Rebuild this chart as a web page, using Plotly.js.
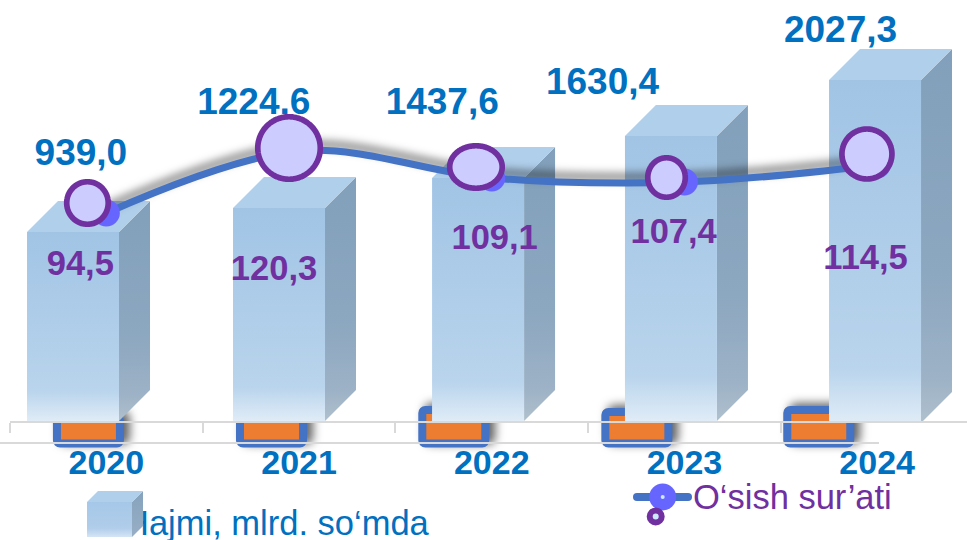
<!DOCTYPE html>
<html>
<head>
<meta charset="utf-8">
<script src="https://cdn.plot.ly/plotly-3.0.1.min.js"></script>
<style>html,body{margin:0;padding:0;background:#fff}#c{width:967px;height:540px}</style>
</head>
<body>
<div id="c"></div>
<script>
// ---- data ----
const years = ['2020','2021','2022','2023','2024'];
const volumeLabels = ['939,0','1224,6','1437,6','1630,4','2027,3'];
const growthRates = [94.5,120.3,109.1,107.4,114.5];
const growthLabels = ['94,5','120,3','109,1','107,4','114,5'];
// heights of the hand-placed boxes above the axis, as drawn (they do not scale with the labels)
const boxHeights = [190,214,244,286,342];
const boxFloors = [1,1,1,1,-1];
const boxShift = [-0.173,-0.104,-0.071,-0.07,-0.011];
// leftover small bars behind the boxes
const smallBarShift = [-0.093,-0.143,-0.197,-0.247,-0.303];
const smallBarTops = [4,4,12,10,12];
// hand-placed rings
const ringShiftX = [-0.098,-0.052,-0.082,-0.093,-0.053];
const ringY = [219,274,255,244.5,268];
const ringRx = [20.75,31.25,26.25,18.75,25];
const ringRy = [21.25,31.25,21.25,19.75,25];
// text anchors
const volumeLabelShift = [-0.132,-0.235,-0.257,-0.425,-0.19];
const volumeLabelY = [266,317,317,337,389];
const growthLabelShift = [-0.135,-0.13,0.015,-0.056,-0.06];
const growthLabelY = [156,151,182,188,162];

// ---- geometry helpers ----
const pxPerCat = 192.7, dx = p => p / pxPerCat;
const boxW = dx(92), depthX = dx(31), depth = 31;
const traces = [];

// small bars
traces.push({type:'bar', x:years.map((_,i)=>i+smallBarShift[i]),
  y:smallBarTops.map(t=>t+21.5), base:years.map(()=>-21.5), width:dx(63),
  marker:{color:'#ed7d31', cornerradius:3, line:{color:'#4472c4', width:8}}, hoverinfo:'skip'});

// a 3D box made of three faces
function box(cx, floor, top, w, dX, dY, frontCols, sideCols, topCol){
  const l = cx - w/2, r = cx + w/2;
  traces.push({type:'scatter', mode:'lines', x:[r,r+dX,r+dX,r,r], y:[floor,floor+dY,top+dY,top,floor],
    fill:'toself', line:{width:0}, hoverinfo:'skip',
    fillgradient:{type:'vertical', start:floor, stop:top+dY, colorscale:sideCols}});
  traces.push({type:'scatter', mode:'lines', x:[l,r,r+dX,l+dX,l], y:[top,top,top+dY,top+dY,top],
    fill:'toself', fillcolor:topCol, line:{width:0}, hoverinfo:'skip'});
  traces.push({type:'scatter', mode:'lines', x:[l,r,r,l,l], y:[floor,floor,top,top,floor],
    fill:'toself', line:{width:0}, hoverinfo:'skip',
    fillgradient:{type:'vertical', start:floor, stop:top, colorscale:frontCols}});
}
const frontCols = [[0,'#e0ecf7'],[0.16,'#b9d4ec'],[1,'#a1c4e5']];
const sideCols = [[0,'#b0c0cd'],[0.12,'#9db2c6'],[0.4,'#8ca7c0'],[1,'#82a0bb']];
years.forEach((_,i)=>box(i+boxShift[i], boxFloors[i], boxHeights[i], boxW, depthX, depth, frontCols, sideCols, '#b0cfeb'));

// growth line + markers (overlay subplot y2)
traces.push({type:'scatter', mode:'lines', x:years.map((_,i)=>i), y:growthRates, yaxis:'y2',
  line:{color:'#4472c4', width:7, shape:'spline', smoothing:1}, hoverinfo:'skip'});
traces.push({type:'scatter', mode:'markers', x:years.map((_,i)=>i), y:growthRates, yaxis:'y2',
  marker:{color:'#6666ff', size:27}, hoverinfo:'skip'});

// value labels (overlay subplot y3, above the line)
traces.push({type:'scatter', mode:'text', x:years.map((_,i)=>i+volumeLabelShift[i]), y:volumeLabelY, yaxis:'y3',
  text:volumeLabels, textposition:'middle center',
  textfont:{family:'Liberation Sans', size:37, color:'#0070c0', weight:700}, hoverinfo:'skip'});
traces.push({type:'scatter', mode:'text', x:years.map((_,i)=>i+growthLabelShift[i]), y:growthLabelY, yaxis:'y3',
  text:growthLabels, textposition:'middle center',
  textfont:{family:'Liberation Sans', size:34.5, color:'#7030a0', weight:700}, hoverinfo:'skip'});

// rings
function ring(cx, cy, rx, ry){
  const xs=[], ys=[];
  for(let a=0;a<=180;a++){ const t=a/180*2*Math.PI; xs.push(cx+dx(rx)*Math.cos(t)); ys.push(cy+ry*Math.sin(t)); }
  traces.push({type:'scatter', mode:'lines', x:xs, y:ys, yaxis:'y3', fill:'toself', fillcolor:'#ccccff',
    line:{color:'#7030a0', width:5.7, shape:'spline', smoothing:0.5, simplify:false}, hoverinfo:'skip'});
}
years.forEach((_,i)=>ring(i+ringShiftX[i], ringY[i], ringRx[i], ringRy[i]));

// legend, drawn in the plot coordinates
const legendText1 = ['Hajmi, mlrd. so‘mda'];
const legendText2 = ['O‘sish sur’ati'];
traces.push({type:'scatter', mode:'text', x:[dx(124-10)-0.5], y:[-104], text:legendText1, textposition:'middle right',
  textfont:{family:'Liberation Sans', size:34.5, color:'#0070c0'}, hoverinfo:'skip'});
box(dx(109.5-10)-0.5, -115, -80, dx(45), dx(11), 11,
  [[0,'#d5e5f4'],[0.25,'#b0cdea'],[1,'#a6c8e8']], [[0,'#97afc6'],[1,'#86a2bc']], '#b0cfeb');
traces.push({type:'scatter', mode:'text', x:[dx(693-10)-0.5], y:[-78], text:legendText2, textposition:'middle right',
  textfont:{family:'Liberation Sans', size:34.5, color:'#7030a0'}, hoverinfo:'skip'});
traces.push({type:'scatter', mode:'lines', x:[dx(637-10)-0.5, dx(688-10)-0.5], y:[-75,-75],
  line:{color:'#4472c4', width:8}, hoverinfo:'skip'});
traces.push({type:'scatter', mode:'markers', x:[dx(662.7-10)-0.5], y:[-75],
  marker:{color:'#6666ff', size:27}, hoverinfo:'skip'});
traces.push({type:'scatter', mode:'markers', x:[dx(662.7-10)-0.5], y:[-75],
  marker:{color:'#cce8ff', size:4}, hoverinfo:'skip'});
traces.push({type:'scatter', mode:'markers', x:[dx(655.7-10)-0.5], y:[-94.5],
  marker:{color:'#cce8ff', size:12, line:{color:'#7030a0', width:6}}, hoverinfo:'skip'});

const layout = {
  width:967, height:540, showlegend:false, paper_bgcolor:'#fff', plot_bgcolor:'rgba(0,0,0,0)',
  margin:{l:10,r:0,t:0,b:0,pad:0}, barmode:'overlay',
  xaxis:{range:[-0.5,4.4663], anchor:'free', position:118/540, tickmode:'array',
    tickvals:years.map((_,i)=>i), ticktext:years, ticks:'', ticklabelstandoff:10,
    tickfont:{family:'Liberation Sans', size:34, color:'#0070c0', weight:700},
    showline:true, linecolor:'#d9d9d9', linewidth:2, showgrid:false, zeroline:false,
    minor:{tickmode:'array', tickvals:[-0.5,0.5,1.5,2.5,3.5], ticks:'outside', ticklen:10, tickwidth:2, tickcolor:'#d9d9d9', showgrid:false}},
  yaxis:{range:[-118,422], visible:false, fixedrange:true},
  yaxis2:{range:[-41.75,183.25], overlaying:'y', visible:false, fixedrange:true},
  yaxis3:{range:[-118,422], overlaying:'y', visible:false, fixedrange:true},
  shapes:[{type:'line', xref:'paper', yref:'y', x0:-10/957, x1:869/957, y0:-21, y1:-21, line:{color:'#d9d9d9', width:2}, layer:'above'}]
};
Plotly.newPlot('c', traces, layout, {displayModeBar:false, staticPlot:true}).then(gd=>{
  gd.querySelectorAll('.barlayer .point path').forEach(p=>{p.style.filter='drop-shadow(6px -3px 5px rgba(0,0,0,.6))';});
  gd.querySelectorAll('.js-line').forEach(p=>{
    const w = parseFloat(p.style.strokeWidth);
    if(w===7) p.style.filter='drop-shadow(0 -6px 4px rgba(0,0,0,.5))';
    if(w===8) p.style.strokeLinecap='round';
  });
});
</script>
</body>
</html>
